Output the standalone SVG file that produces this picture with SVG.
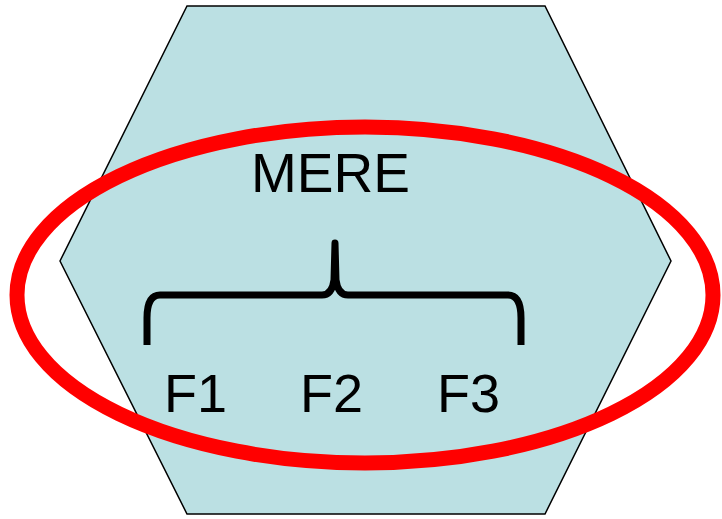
<svg xmlns="http://www.w3.org/2000/svg" width="722" height="519" viewBox="0 0 722 519">
<style>
.lbl{font-family:"Liberation Sans",Arial,sans-serif;fill:#000;}
</style>
<rect width="722" height="519" fill="#fff"/>
<g id="hexagon">
<polygon points="187,6 545,6 671,261 545,514 187,514 60,261" fill="#BBE0E3" stroke="#000" stroke-width="1.5" stroke-linejoin="miter"/>
</g>
<g id="mere">
<text class="lbl" x="251" y="192" font-size="55">MERE</text>
</g>
<g id="connectors">
<path d="M147,345 L147,318 Q147,295 160,295 L322,295 Q332,295 334,280 L335,243 L336,280 Q338,295 348,295 L508,295 Q521,295 521,318 L521,345" fill="none" stroke="#000" stroke-width="7" stroke-linejoin="round"/>
</g>
<g id="f1"><text class="lbl" x="164" y="412" font-size="54">F1</text></g>
<g id="f2"><text class="lbl" x="300" y="412" font-size="54">F2</text></g>
<g id="f3"><text class="lbl" x="437" y="412" font-size="54">F3</text></g>
<g id="ellipse">
<ellipse cx="365" cy="295" rx="348" ry="168" fill="none" stroke="#FF0000" stroke-width="15"/>
</g>
</svg>
